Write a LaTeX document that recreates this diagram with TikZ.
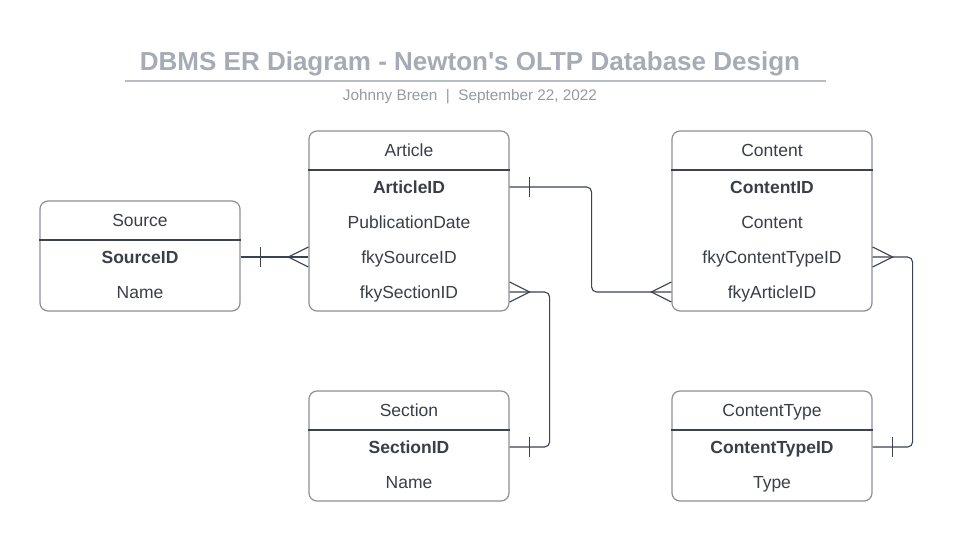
\documentclass[tikz,border=0pt]{standalone}
\usepackage{fontspec}
\setmainfont{Liberation Sans}
\definecolor{edge}{HTML}{3B4252}
\definecolor{frame}{HTML}{8C9099}
\definecolor{ink}{HTML}{3A3F47}
\definecolor{head}{HTML}{A6ABB5}
\tikzset{
  tbl/.style={draw=frame,line width=1.2pt,rounded corners=8pt,minimum width=200pt,inner sep=0pt},
  fld/.style={text=ink,font=\fontsize{17.5}{19}\selectfont,inner sep=0pt,text height=16.5pt,text depth=3.5pt},
  rule/.style={draw=edge,line width=1.1pt},
  link/.style={draw=edge,line width=1.1pt}
}
\begin{document}
\begin{tikzpicture}[x=1pt,y=-1pt]
\useasboundingbox[fill=white](0,0)rectangle(953,541);
% title
\node[text=head,font=\fontsize{26}{30}\selectfont\bfseries](ttl)at(470,64){DBMS ER Diagram - Newton\textquotesingle s OLTP Database Design};
\draw[draw=head!80,line width=1.8pt](125,81)--(826,81);
\node[text=head!90!black,font=\fontsize{15.3}{17}\selectfont](sub)at(470,97){Johnny Breen\ \ |\ \ September 22, 2022};
% Source
\node[tbl,minimum height=110pt](src)at(140,256){};
\draw[rule](src.west|-0,240)--(src.east|-0,240);
\node[fld](srcH)at(140,220){Source};
\node[fld](srcA)at(140,257){\textbf{SourceID}};
\node[fld](srcB)at(140,292){Name};
% Article
\node[tbl,minimum height=180pt](art)at(409,221){};
\draw[rule](art.west|-0,170)--(art.east|-0,170);
\node[fld](artH)at(409,150){Article};
\node[fld](artA)at(409,187){\textbf{ArticleID}};
\node[fld](artB)at(409,222){PublicationDate};
\node[fld](artC)at(409,257){fkySourceID};
\node[fld](artD)at(409,292){fkySectionID};
% Content
\node[tbl,minimum height=180pt](con)at(772,221){};
\draw[rule](con.west|-0,170)--(con.east|-0,170);
\node[fld](conH)at(772,150){Content};
\node[fld](conA)at(772,187){\textbf{ContentID}};
\node[fld](conB)at(772,222){Content};
\node[fld](conC)at(772,257){fkyContentTypeID};
\node[fld](conD)at(772,292){fkyArticleID};
% Section
\node[tbl,minimum height=110pt](sec)at(409,446){};
\draw[rule](sec.west|-0,430)--(sec.east|-0,430);
\node[fld](secH)at(409,410){Section};
\node[fld](secA)at(409,447){\textbf{SectionID}};
\node[fld](secB)at(409,482){Name};
% ContentType
\node[tbl,minimum height=110pt](typ)at(772,446){};
\draw[rule](typ.west|-0,430)--(typ.east|-0,430);
\node[fld](typH)at(772,410){ContentType};
\node[fld](typA)at(772,447){\textbf{ContentTypeID}};
\node[fld](typB)at(772,482){Type};
% Source -- Article
\draw[link](srcA-|src.east)--(artC-|art.west);
\draw[link](srcA-|src.east)++(20,-10)--++(0,20);
\draw[link](artC-|art.west)++(0,-10)--++(-20,10)--++(20,10);
% Article -- Content
\draw[link,rounded corners=5pt](artA-|art.east)--++(82,0)|-(conD-|con.west);
\draw[link](artA-|art.east)++(20,-10)--++(0,20);
\draw[link](conD-|con.west)++(0,-10)--++(-20,10)--++(20,10);
% Article -- Section
\draw[link,rounded corners=5pt](artD-|art.east)--++(40,0)|-(secA-|sec.east);
\draw[link](artD-|art.east)++(0,-10)--++(20,10)--++(-20,10);
\draw[link](secA-|sec.east)++(20,-10)--++(0,20);
% Content -- ContentType
\draw[link,rounded corners=5pt](conC-|con.east)--++(40,0)|-(typA-|typ.east);
\draw[link](conC-|con.east)++(0,-10)--++(20,10)--++(-20,10);
\draw[link](typA-|typ.east)++(20,-10)--++(0,20);
\end{tikzpicture}
\end{document}
